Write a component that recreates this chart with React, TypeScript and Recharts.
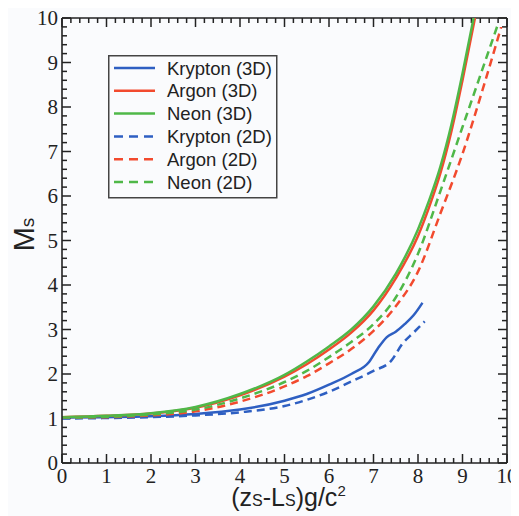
import { LineChart, Line, XAxis, YAxis, Legend, Label, ReferenceLine } from "recharts";

const BLUE = "#2e5fc2";
const RED = "#f24a2e";
const GREEN = "#4fb848";
const INK = "#222";

// Krypton
const kryptonX3d = [0, 1, 2, 3, 4, 5, 5.5, 6, 6.5, 6.9, 7.1, 7.3, 7.5, 7.7, 7.9, 8.1];
const kryptonY3d = [1.02, 1.03, 1.05, 1.1, 1.2, 1.4, 1.55, 1.76, 2.0, 2.27, 2.58, 2.83, 2.95, 3.12, 3.32, 3.6];
const kryptonX2d = [0, 1, 2, 3, 4, 5, 5.5, 6, 6.5, 7, 7.4, 7.65, 7.9, 8.15];
const kryptonY2d = [1.0, 1.01, 1.03, 1.07, 1.14, 1.28, 1.42, 1.6, 1.83, 2.07, 2.3, 2.68, 2.93, 3.18];

// Argon
const argonX3d = [0, 1, 2, 3, 4, 5, 5.5, 6, 6.5, 7, 7.5, 8, 8.25, 8.5, 8.75, 9, 9.28];
const argonY3d = [1.03, 1.06, 1.11, 1.24, 1.52, 1.94, 2.22, 2.55, 2.93, 3.43, 4.15, 5.1, 5.75, 6.5, 7.45, 8.6, 10];
const argonX2d = [0, 1, 2, 3, 4, 5, 5.5, 6, 6.5, 7, 7.5, 8, 8.5, 9, 9.5, 9.87];
const argonY2d = [1.02, 1.03, 1.07, 1.16, 1.38, 1.72, 1.95, 2.24, 2.56, 2.97, 3.52, 4.3, 5.6, 6.95, 8.55, 9.8];

// Neon
const neonX3d = [0, 1, 2, 3, 4, 5, 5.5, 6, 6.5, 7, 7.5, 8, 8.25, 8.5, 8.75, 9, 9.25];
const neonY3d = [1.03, 1.06, 1.12, 1.26, 1.55, 1.98, 2.28, 2.62, 3.0, 3.52, 4.25, 5.25, 5.9, 6.65, 7.6, 8.75, 10];
const neonX2d = [0, 1, 2, 3, 4, 5, 5.5, 6, 6.5, 7, 7.5, 8, 8.5, 9, 9.5, 9.8];
const neonY2d = [1.02, 1.04, 1.09, 1.2, 1.45, 1.82, 2.07, 2.38, 2.72, 3.12, 3.72, 4.7, 6.1, 7.55, 9.0, 9.87];

const axisLabels = [0, 1, 2, 3, 4, 5, 6, 7, 8, 9, 10];

// major ticks every 1, minor every 0.2
const fineTicks = Array.from({ length: 51 }, (_, i) => Math.round(i * 2) / 10);
const isMajor = (v: number) => axisLabels.includes(v);
const TICK_MAJOR = 9;
const TICK_MINOR = 5;
const TICK_W = 1.5;

const series = [
  { name: "Krypton (3D)", xs: kryptonX3d, ys: kryptonY3d, color: BLUE, dashed: false },
  { name: "Argon (3D)", xs: argonX3d, ys: argonY3d, color: RED, dashed: false },
  { name: "Neon (3D)", xs: neonX3d, ys: neonY3d, color: GREEN, dashed: false },
  { name: "Krypton (2D)", xs: kryptonX2d, ys: kryptonY2d, color: BLUE, dashed: true },
  { name: "Argon (2D)", xs: argonX2d, ys: argonY2d, color: RED, dashed: true },
  { name: "Neon (2D)", xs: neonX2d, ys: neonY2d, color: GREEN, dashed: true },
];

const toPoints = (xs: number[], ys: number[]) => xs.map((x, i) => ({ x, y: ys[i] }));

const W = 511;
const H = 508;

const serifTick = { fontFamily: "Liberation Serif, serif", fontSize: 21, fill: INK };

const BottomLabel = ({ x, y, payload }: any) =>
  isMajor(payload.value) ? (
    <text x={x} y={y + 20} textAnchor="middle" {...serifTick}>
      {payload.value}
    </text>
  ) : (
    <g />
  );

const LeftLabel = ({ x, y, payload }: any) =>
  isMajor(payload.value) ? (
    <text x={x - 4} y={y + 7} textAnchor="end" {...serifTick}>
      {payload.value}
    </text>
  ) : (
    <g />
  );

// ReferenceLine shape for a short inward tick: starts on the frame side, pixel length fixed
const tickShape = (side: "b" | "t" | "l" | "r", len: number) => (props: any) => {
  const { x1, y1, x2, y2 } = props;
  let a = { x: x1, y: y1 };
  let b = { x: x1, y: y1 };
  if (side === "b") { a = { x: x1, y: Math.max(y1, y2) }; b = { x: x1, y: a.y - len }; }
  if (side === "t") { a = { x: x1, y: Math.min(y1, y2) }; b = { x: x1, y: a.y + len }; }
  if (side === "l") { a = { x: Math.min(x1, x2), y: y1 }; b = { x: a.x + len, y: y1 }; }
  if (side === "r") { a = { x: Math.max(x1, x2), y: y1 }; b = { x: a.x - len, y: y1 }; }
  return <line x1={a.x} y1={a.y} x2={b.x} y2={b.y} stroke={INK} strokeWidth={TICK_W} />;
};

const sans = "Liberation Sans, Arial, sans-serif";

const LegendBox = () => (
  <svg width={170} height={144} style={{ display: "block" }}>
    <rect x={0.75} y={0.75} width={168} height={142} fill="none" stroke="#444" strokeWidth={1.5} />
    {series.map((s, i) => {
      const cy = 13 + i * 22.8;
      return (
        <g key={s.name}>
          <line
            x1={6}
            x2={47}
            y1={cy}
            y2={cy}
            stroke={s.color}
            strokeWidth={2.5}
            strokeDasharray={s.dashed ? "9 6" : undefined}
          />
          <text x={59} y={cy + 6.5} fontFamily={sans} fontSize={18.5} fill={INK}>
            {s.name}
          </text>
        </g>
      );
    })}
  </svg>
);

const YTitle = ({ viewBox }: any) => {
  const cx = 26;
  const cy = viewBox.y + viewBox.height / 2 - 6;
  return (
    <text transform={`translate(${cx},${cy}) rotate(-90)`} textAnchor="middle" fontFamily={sans} fill={INK}>
      <tspan fontSize={29}>M</tspan>
      <tspan fontSize={19}>s</tspan>
    </text>
  );
};

const XTitle = ({ viewBox }: any) => {
  const cx = viewBox.x + viewBox.width / 2 + 4;
  return (
    <text x={cx} y={viewBox.y + 43} textAnchor="middle" fontFamily={sans} fill={INK} fontSize={25}>
      (z<tspan fontSize={16}>S</tspan>-L<tspan fontSize={16}>S</tspan>)g/c
      <tspan fontSize={15} dy={-10}>2</tspan>
    </text>
  );
};

export default function App() {
  return (
    <div style={{ width: W, height: H, background: "#fafbfd", position: "relative" }}>
      <LineChart width={W} height={H} margin={{ top: 10, right: 12, bottom: 0, left: 0 }}>
        <XAxis
          dataKey="x"
          type="number"
          domain={[0, 10]}
          ticks={fineTicks}
          interval={0}
          height={53}
          tickSize={0}
          tickMargin={0}
          tickLine={false}
          tick={<BottomLabel />}
          axisLine={{ stroke: INK, strokeWidth: 1.6 }}
          allowDataOverflow
        >
          <Label content={<XTitle />} />
        </XAxis>
        <YAxis
          type="number"
          domain={[0, 10]}
          ticks={fineTicks}
          interval={0}
          width={54}
          tickSize={0}
          tickMargin={0}
          tickLine={false}
          tick={<LeftLabel />}
          axisLine={{ stroke: INK, strokeWidth: 1.6 }}
          allowDataOverflow
        >
          <Label content={<YTitle />} />
        </YAxis>

        {/* top and right sides of the frame */}
        <ReferenceLine y={10} stroke={INK} strokeWidth={1.6} />
        <ReferenceLine x={10} stroke={INK} strokeWidth={1.6} />

        {/* inward ticks on all four sides */}
        {fineTicks.map((t) => {
          const len = isMajor(t) ? TICK_MAJOR : TICK_MINOR;
          return [
            <ReferenceLine key={`b-${t}`} x={t} shape={tickShape("b", len)} />,
            <ReferenceLine key={`t-${t}`} x={t} shape={tickShape("t", len)} />,
            <ReferenceLine key={`l-${t}`} y={t} shape={tickShape("l", len)} />,
            <ReferenceLine key={`r-${t}`} y={t} shape={tickShape("r", len)} />,
          ];
        })}

        <Legend
          layout="vertical"
          align="center"
          verticalAlign="middle"
          content={<LegendBox />}
          wrapperStyle={{ left: 100, top: 47, width: 170, height: 144 }}
        />
        {series.map((s) => (
          <Line
            key={s.name}
            name={s.name}
            data={toPoints(s.xs, s.ys)}
            dataKey="y"
            type="monotone"
            stroke={s.color}
            strokeWidth={2.5}
            strokeDasharray={s.dashed ? "8 5" : undefined}
            dot={false}
            activeDot={false}
            isAnimationActive={false}
          />
        ))}
      </LineChart>
    </div>
  );
}
